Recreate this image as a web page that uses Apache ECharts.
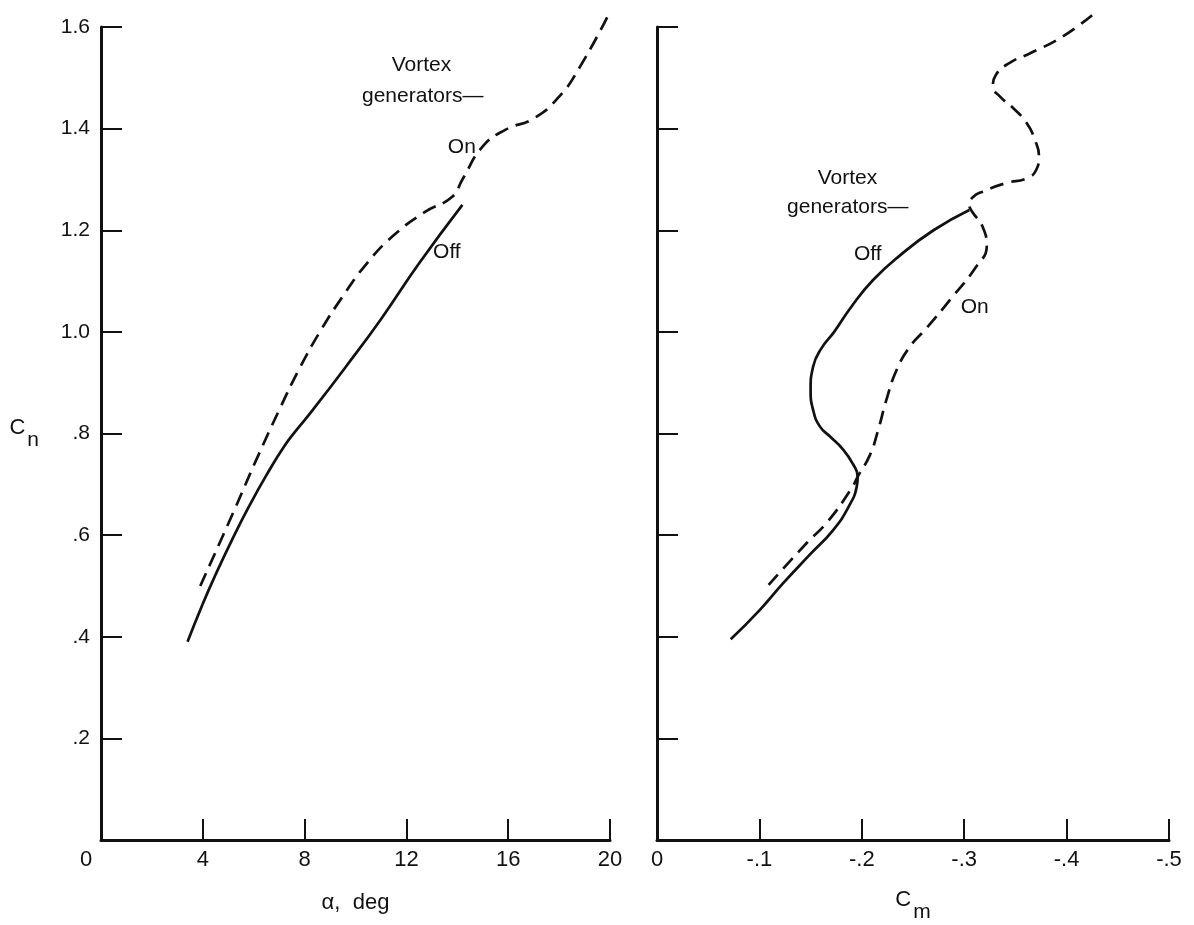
<!DOCTYPE html>
<html>
<head>
<meta charset="utf-8">
<script src="https://cdn.jsdelivr.net/npm/echarts@6/dist/echarts.min.js"></script>
<style>
  html, body { margin: 0; padding: 0; background: #fff; }
  #chart { width: 1194px; height: 925px; }
</style>
</head>
<body>
<div id="chart"></div>
<script>
// Normal-force coefficient vs angle of attack (left) and vs pitching moment (right),
// with vortex generators off (solid) and on (dashed).

// Left panel: alpha (deg) vs Cn
const alphaOff = [3.4, 4.0, 4.5, 5.2, 5.8, 6.5, 7.2, 7.7, 8.3, 9.6, 11.0, 12.5, 14.2];
const cnAlphaOff = [0.39, 0.465, 0.522, 0.596, 0.655, 0.718, 0.775, 0.808, 0.845, 0.93, 1.025, 1.135, 1.25];

const alphaOn = [3.9, 5.2, 6.1, 7.0, 7.8, 8.6, 9.5, 10.45, 11.5, 12.7, 13.8, 14.2, 15.0, 15.9, 17.0, 18.0, 18.8, 19.9];
const cnAlphaOn = [0.5, 0.645, 0.748, 0.846, 0.928, 1.0, 1.07, 1.135, 1.19, 1.235, 1.266, 1.3, 1.365, 1.398, 1.42, 1.463, 1.52, 1.62];

// Right panel: Cm vs Cn
const cmOff = [-0.072, -0.1005, -0.123, -0.149, -0.172, -0.188, -0.195, -0.196, -0.191, -0.182, -0.169, -0.159, -0.1525, -0.15, -0.1525, -0.1607, -0.173, -0.19, -0.211, -0.237, -0.27, -0.305];
const cnCmOff = [0.395, 0.453, 0.505, 0.561, 0.61, 0.659, 0.695, 0.715, 0.741, 0.768, 0.794, 0.814, 0.846, 0.886, 0.932, 0.968, 1.0, 1.05, 1.102, 1.15, 1.2, 1.24];

const cmOn = [-0.109, -0.146, -0.166, -0.19, -0.196, -0.208, -0.216, -0.224, -0.234, -0.247, -0.263, -0.289, -0.312, -0.322, -0.318, -0.308, -0.305, -0.309, -0.318, -0.341, -0.361, -0.3704, -0.373, -0.369, -0.361, -0.348, -0.335, -0.328, -0.331, -0.344, -0.364, -0.396, -0.429];
const cnCmOn = [0.502, 0.584, 0.625, 0.692, 0.715, 0.758, 0.807, 0.866, 0.925, 0.971, 1.007, 1.07, 1.129, 1.168, 1.207, 1.236, 1.25, 1.266, 1.276, 1.293, 1.302, 1.319, 1.345, 1.378, 1.411, 1.44, 1.463, 1.483, 1.506, 1.529, 1.548, 1.581, 1.63];

// Annotation text anchored in data coordinates: [text, gridIndex, x, y]
const notes = [
  ['Vortex', 0, 12.59, 1.524],
  ['generators\u2014', 0, 12.64, 1.463],
  ['On', 0, 14.18, 1.364],
  ['Off', 0, 13.59, 1.157],
  ['Vortex', 1, -0.186, 1.303],
  ['generators\u2014', 1, -0.1863, 1.246],
  ['Off', 1, -0.2059, 1.152],
  ['On', 1, -0.3102, 1.049]
];

const FONT = "'Liberation Sans', Arial, sans-serif";
const INK = '#111';

const pairs = (xs, ys) => xs.map((x, i) => [x, ys[i]]);

const yFmt = v => {
  if (Math.abs(v) < 1e-9) return '';
  if (v >= 0.999) return v.toFixed(1);
  return '.' + Math.round(v * 10);
};

const axisLineStyle = { color: INK, width: 3 };
const tickStyle = { show: true, inside: true, length: 21, lineStyle: { color: INK, width: 2 } };
const subRich = {
  c: { fontSize: 22, fontFamily: FONT, color: INK, verticalAlign: 'top' },
  s: { fontSize: 21, fontFamily: FONT, color: INK, verticalAlign: 'top', padding: [13, 0, 0, 2] }
};

const chart = echarts.init(document.getElementById('chart'), null, { renderer: 'canvas' });

const option = {
  backgroundColor: '#fff',
  animation: false,
  textStyle: { fontFamily: FONT, color: INK },
  grid: [
    { left: 101, top: 27, width: 509, height: 813, containLabel: false, outerBoundsMode: 'none' },
    { left: 657, top: 27, width: 512, height: 813, containLabel: false, outerBoundsMode: 'none' }
  ],
  xAxis: [
    {
      gridIndex: 0, type: 'value', min: 0, max: 20, interval: 4,
      name: '\u03b1,  deg', nameLocation: 'middle', nameGap: 52,
      nameTextStyle: { fontSize: 22, fontFamily: FONT, color: INK },
      axisLine: { show: true, lineStyle: axisLineStyle },
      axisTick: tickStyle,
      splitLine: { show: false },
      axisLabel: {
        fontSize: 22, fontFamily: FONT, color: INK, margin: 9,
        formatter: v => (v === 0 ? '{z|0}' : String(v)),
        rich: { z: { fontSize: 22, fontFamily: FONT, color: INK, padding: [0, 30, 0, 0] } }
      }
    },
    {
      gridIndex: 1, type: 'value', min: -0.5, max: 0, interval: 0.1, inverse: true,
      name: '{c|C}{s|m}', nameLocation: 'middle', nameGap: 49,
      nameTextStyle: { rich: subRich },
      axisLine: { show: true, onZero: false, lineStyle: axisLineStyle },
      axisTick: tickStyle,
      splitLine: { show: false },
      axisLabel: {
        fontSize: 22, fontFamily: FONT, color: INK, margin: 9,
        formatter: v => (Math.abs(v) < 1e-9 ? '0' : '-.' + Math.round(Math.abs(v) * 10))
      }
    }
  ],
  yAxis: [
    {
      gridIndex: 0, type: 'value', min: 0, max: 1.6, interval: 0.2,
      name: '{c|C}{s|n}', nameLocation: 'middle', nameGap: 62, nameRotate: 0,
      nameTextStyle: { rich: subRich },
      axisLine: { show: true, onZero: false, lineStyle: axisLineStyle },
      axisTick: tickStyle,
      splitLine: { show: false },
      axisLabel: { fontSize: 21, fontFamily: FONT, color: INK, margin: 11, formatter: yFmt }
    },
    {
      gridIndex: 1, type: 'value', min: 0, max: 1.6, interval: 0.2,
      axisLine: { show: true, onZero: false, lineStyle: axisLineStyle },
      axisTick: tickStyle,
      splitLine: { show: false },
      axisLabel: { show: false }
    }
  ],
  series: [
    {
      name: 'Off', type: 'line', xAxisIndex: 0, yAxisIndex: 0,
      data: pairs(alphaOff, cnAlphaOff), smooth: 0.5, showSymbol: false, clip: false,
      lineStyle: { color: INK, width: 2.7 }
    },
    {
      name: 'On', type: 'line', xAxisIndex: 0, yAxisIndex: 0,
      data: pairs(alphaOn, cnAlphaOn), smooth: 0.5, showSymbol: false, clip: false,
      lineStyle: { color: INK, width: 2.7, type: [14, 8] }
    },
    {
      name: 'Off', type: 'line', xAxisIndex: 1, yAxisIndex: 1,
      data: pairs(cmOff, cnCmOff), smooth: 0.5, showSymbol: false, clip: false,
      lineStyle: { color: INK, width: 2.7 }
    },
    {
      name: 'On', type: 'line', xAxisIndex: 1, yAxisIndex: 1,
      data: pairs(cmOn, cnCmOn), smooth: 0.5, showSymbol: false, clip: false,
      lineStyle: { color: INK, width: 2.7, type: [14, 8] }
    }
  ]
};

chart.setOption(option);

// Place the curve labels at their data positions
const graphic = notes.map(([text, g, x, y]) => {
  const p = chart.convertToPixel({ gridIndex: g }, [x, y]);
  return {
    type: 'text', x: p[0], y: p[1], silent: true,
    style: { text, fontSize: 21, fontFamily: FONT, fill: INK, align: 'center', verticalAlign: 'middle' }
  };
});
chart.setOption({ graphic });
</script>
</body>
</html>
